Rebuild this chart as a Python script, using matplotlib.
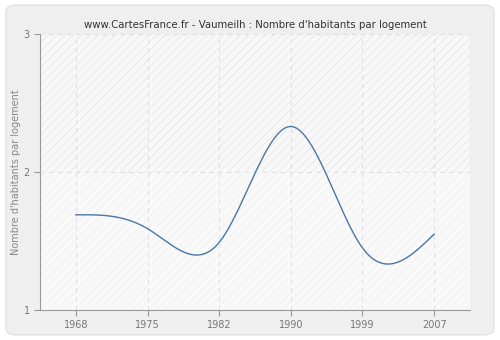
import numpy as np
import matplotlib.pyplot as plt
from matplotlib.patches import FancyBboxPatch

years = ['1968', '1975', '1982', '1990', '1999', '2007']
values = [1.69, 1.59, 1.49, 2.33, 1.45, 1.55]

title = "www.CartesFrance.fr - Vaumeilh : Nombre d'habitants par logement"
ylabel = "Nombre d'habitants par logement"


def natural_spline(x, y, xs):
    # plain natural cubic spline, enough for a smooth line through the points
    x = np.asarray(x, float)
    y = np.asarray(y, float)
    n = len(x)
    h = np.diff(x)
    A = np.zeros((n, n))
    b = np.zeros(n)
    A[0, 0] = A[-1, -1] = 1
    for i in range(1, n - 1):
        A[i, i - 1] = h[i - 1]
        A[i, i] = 2 * (h[i - 1] + h[i])
        A[i, i + 1] = h[i]
        b[i] = 3 * ((y[i + 1] - y[i]) / h[i] - (y[i] - y[i - 1]) / h[i - 1])
    c = np.linalg.solve(A, b)
    idx = np.clip(np.searchsorted(x, xs) - 1, 0, n - 2)
    dx = xs - x[idx]
    bb = (y[idx + 1] - y[idx]) / h[idx] - h[idx] * (2 * c[idx] + c[idx + 1]) / 3
    d = (c[idx + 1] - c[idx]) / (3 * h[idx])
    return y[idx] + bb * dx + c[idx] * dx ** 2 + d * dx ** 3


fig = plt.figure(figsize=(5, 3.4), dpi=100)
fig.patch.set_facecolor('white')
frame = FancyBboxPatch((0.012, 0.015), 0.976, 0.97, boxstyle='round,pad=0,rounding_size=0.02',
                       transform=fig.transFigure, facecolor='#efefef', edgecolor='#e2e2e2',
                       linewidth=1, zorder=-10)
fig.patches.append(frame)

ax = fig.add_axes([0.08, 0.088, 0.86, 0.812])
ax.set_facecolor('#f8f8f8')

xpos = np.arange(len(years))
ax.set_xlim(-0.5, len(years) - 0.5)
ax.set_ylim(1, 3)

# hatched background, stronger above 2
plt.rcParams['hatch.linewidth'] = 0.5
ax.axhspan(2, 3, facecolor='#f8f8f8', edgecolor='#e4e4e4', hatch='////', linewidth=0, zorder=0)
ax.axhspan(1, 2, facecolor='#f9f9f9', edgecolor='#f0f0f0', hatch='////', linewidth=0, zorder=0)

xs = np.linspace(0, len(years) - 1, 400)
ax.plot(xs, natural_spline(xpos, values, xs), color='#4a76a8', linewidth=1, zorder=3)

ax.set_xticks(xpos)
ax.set_xticklabels(years)
ax.set_yticks([1, 2, 3])
ax.grid(True, color='#e0e0e0', linestyle=(0, (4, 4)), linewidth=0.8)
ax.set_axisbelow(False)
for gl in ax.get_xgridlines() + ax.get_ygridlines():
    gl.set_zorder(1)

for side in ['top', 'right']:
    ax.spines[side].set_visible(False)
for side in ['left', 'bottom']:
    ax.spines[side].set_color('#999999')
ax.tick_params(colors='#999999', labelcolor='#777777', labelsize=7, length=4, width=0.8)

ax.set_ylabel(ylabel, fontsize=7, color='#888888', labelpad=2)
fig.text(0.51, 0.925, title, ha='center', va='center', fontsize=7.3, color='#333333')

fig.savefig('out.png', dpi=100, facecolor=fig.get_facecolor())
